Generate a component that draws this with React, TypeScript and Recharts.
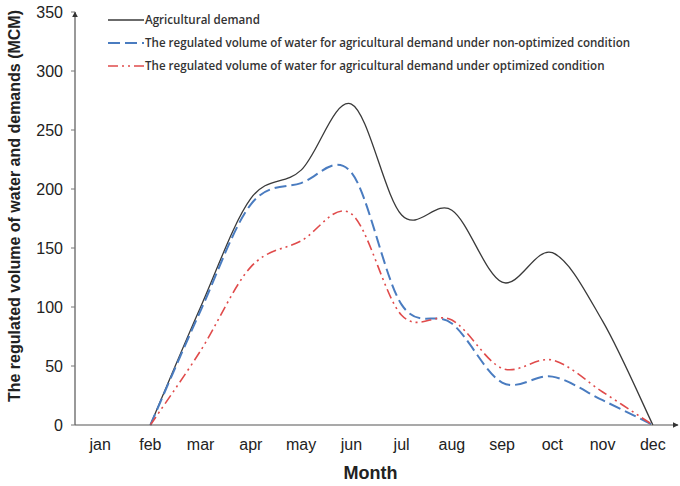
import React from "react";
import { LineChart, Line, XAxis, YAxis } from "recharts";

const months = ["jan", "feb", "mar", "apr", "may", "jun", "jul", "aug", "sep", "oct", "nov", "dec"];
const monthIdx = [1, 2, 3, 4, 5, 6, 7, 8, 9, 10, 11, 12];
const demand = [null, 0, 100, 192, 216, 272, 178, 182, 121, 146, 88, 0];
const nonOptimized = [null, 0, 97, 187, 205, 214, 102, 86, 36, 41, 21, 0];
const optimized = [null, 0, 63, 134, 156, 179, 93, 89, 48, 55, 28, 0];
const yTicks = [0, 50, 100, 150, 200, 250, 300, 350];
const boundaryTicks = [1.5, 2.5, 3.5, 4.5, 5.5, 6.5, 7.5, 8.5, 9.5, 10.5, 11.5, 12.5];

const series = [
  { key: "demand", name: "Agricultural demand", color: "#3a3a3a", dash: undefined, width: 1.3 },
  {
    key: "nonOpt",
    name: "The regulated volume of water for agricultural demand under non-optimized condition",
    color: "#4a7cc0",
    dash: "12 5",
    width: 2,
  },
  {
    key: "opt",
    name: "The regulated volume of water for agricultural demand under optimized condition",
    color: "#e04b4b",
    dash: "10 4 2 4 2 4",
    width: 1.6,
  },
];

const data = monthIdx.map((m, i) => ({
  m,
  demand: demand[i],
  nonOpt: nonOptimized[i],
  opt: optimized[i],
}));

// Excel-like smoothed line (Catmull-Rom through the points)
const smoothCurve = (context: any) => {
  let pts: [number, number][] = [];
  return {
    areaStart() {},
    areaEnd() {},
    lineStart() {
      pts = [];
    },
    lineEnd() {
      if (!pts.length) return;
      context.moveTo(pts[0][0], pts[0][1]);
      for (let i = 0; i < pts.length - 1; i++) {
        const p0 = pts[Math.max(i - 1, 0)];
        const p1 = pts[i];
        const p2 = pts[i + 1];
        const p3 = pts[Math.min(i + 2, pts.length - 1)];
        context.bezierCurveTo(
          p1[0] + (p2[0] - p0[0]) / 6,
          p1[1] + (p2[1] - p0[1]) / 6,
          p2[0] - (p3[0] - p1[0]) / 6,
          p2[1] - (p3[1] - p1[1]) / 6,
          p2[0],
          p2[1]
        );
      }
    },
    point(x: number, y: number) {
      pts.push([+x, +y]);
    },
  };
};

const LegendBox = () => (
  <div
    style={{
      position: "absolute",
      left: 108,
      top: 8,
      fontFamily: "'Open Sans', sans-serif",
      fontSize: "11.6px",
      fontWeight: 600,
      color: "#333",
      whiteSpace: "nowrap",
    }}
  >
    {series.map((s) => (
      <div key={s.key} style={{ display: "flex", alignItems: "center", height: "23px" }}>
        <svg width={36} height={10} style={{ marginRight: "1px" }}>
          <line x1={0} y1={5} x2={36} y2={5} stroke={s.color} strokeWidth={s.width} strokeDasharray={s.dash} />
        </svg>
        <span>{s.name}</span>
      </div>
    ))}
  </div>
);

const YLabel = () => (
  <text
    x={20}
    y={206}
    transform="rotate(-90 20 206)"
    textAnchor="middle"
    fontFamily="'Liberation Sans', Arial, sans-serif"
    fontWeight="bold"
    fontSize={16}
    fill="#222"
  >
    The regulated volume of water and demands (MCM)
  </text>
);

export default function App() {
  const tickStyle = { fontFamily: "'Liberation Sans', Arial, sans-serif", fontSize: 16, fill: "#222" };
  return (
    <div style={{ position: "absolute", left: 0, top: 0, width: 680, height: 486, background: "#fff" }}>
      <LineChart width={680} height={486} data={data} margin={{ top: 12, right: 2, bottom: 0, left: 0 }}>
        <defs>
          <marker id="arrow" viewBox="0 0 10 10" refX="9" refY="5" markerWidth="6" markerHeight="6" markerUnits="userSpaceOnUse" orient="auto-start-reverse">
            <path d="M0,0 L10,5 L0,10 z" fill="#333" />
          </marker>
        </defs>
        <XAxis
          xAxisId="ticks"
          type="number"
          domain={[0.5, 12.5]}
          ticks={boundaryTicks}
          tick={false}
          tickSize={5}
          axisLine={false}
          tickLine={{ stroke: "#777" }}
          height={0}
          allowDataOverflow
        />
        <XAxis
          dataKey="m"
          type="number"
          domain={[0.5, 12.5]}
          ticks={monthIdx}
          tickFormatter={(v: number) => months[v - 1]}
          tickLine={false}
          tickMargin={8}
          tick={tickStyle}
          axisLine={{ stroke: "#555", strokeWidth: 1.2, markerEnd: "url(#arrow)" }}
          height={61}
          label={{
            value: "Month",
            position: "insideBottom",
            offset: 7,
            dx: -6,
            style: { fontFamily: "'Liberation Sans', Arial, sans-serif", fontWeight: "bold", fontSize: 18, fill: "#222" },
          }}
        />
        <YAxis
          domain={[0, 350]}
          ticks={yTicks}
          width={75}
          tickSize={4}
          tickMargin={8}
          tick={tickStyle}
          tickLine={{ stroke: "#777" }}
          axisLine={{ stroke: "#555", strokeWidth: 1.2, markerStart: "url(#arrow)" }}
          label={{ content: () => <YLabel /> }}
        />
        {series.map((s) => (
          <Line
            key={s.key}
            dataKey={s.key}
            name={s.name}
            type={smoothCurve as any}
            stroke={s.color}
            strokeWidth={s.width}
            strokeDasharray={s.dash}
            dot={false}
            activeDot={false}
            isAnimationActive={false}
          />
        ))}
      </LineChart>
      <LegendBox />
    </div>
  );
}
